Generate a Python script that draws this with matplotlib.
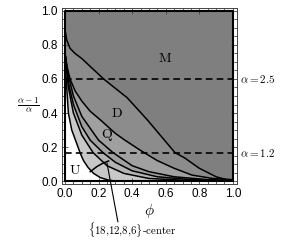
import numpy as np
import matplotlib
matplotlib.use("Agg")
import matplotlib.pyplot as plt
from matplotlib.ticker import MultipleLocator

plt.rcParams['mathtext.fontset'] = 'cm'
plt.rcParams['font.family'] = ['Liberation Sans', 'DejaVu Sans']

# Curves (phi, (alpha-1)/alpha)
phi_A = [0, 0.01, 0.03, 0.06, 0.10, 0.23, 0.37, 0.49, 0.655, 0.714, 0.80, 0.90, 0.97, 1.0]
y_A = [0.89, 0.83, 0.78, 0.75, 0.72, 0.60, 0.49, 0.36, 0.167, 0.135, 0.075, 0.025, 0.006, 0.003]

phi_B = [0, 0.01, 0.03, 0.06, 0.10, 0.15, 0.21, 0.30, 0.357, 0.45, 0.55, 0.65, 0.756, 0.88, 1.0]
y_B = [0.75, 0.68, 0.60, 0.53, 0.47, 0.41, 0.36, 0.28, 0.24, 0.18, 0.12, 0.075, 0.035, 0.015, 0.008]

phi_C3 = [0, 0.02, 0.05, 0.10, 0.20, 0.286, 0.40, 0.50, 0.65, 0.85, 1.0]
y_C3 = [0.75, 0.62, 0.50, 0.38, 0.24, 0.167, 0.09, 0.055, 0.025, 0.008, 0.002]

phi_C2 = [0, 0.02, 0.05, 0.10, 0.15, 0.226, 0.30, 0.40, 0.55, 0.75, 1.0]
y_C2 = [0.75, 0.58, 0.45, 0.32, 0.24, 0.167, 0.11, 0.06, 0.025, 0.008, 0.001]

phi_C1 = [0, 0.02, 0.05, 0.10, 0.167, 0.25, 0.35, 0.50, 0.70, 1.0]
y_C1 = [0.75, 0.55, 0.40, 0.27, 0.167, 0.09, 0.045, 0.015, 0.005, 0.0]

phi_U = [0, 0.01, 0.02, 0.04, 0.07, 0.09, 0.11, 0.137, 0.17, 0.21, 0.26, 0.30]
y_U = [0.72, 0.55, 0.40, 0.30, 0.22, 0.165, 0.12, 0.08, 0.045, 0.02, 0.005, 0.0]

phi_center = [0.15, 0.19, 0.226, 0.26]
y_center = [0.055, 0.085, 0.105, 0.118]

alpha_lines = [2.5, 1.2]
alpha_labels = [r"$\alpha = 2.5$", r"$\alpha = 1.2$"]

region_names = ["M", "D", "Q", "U"]
region_phi = [0.595, 0.31, 0.25, 0.06]
region_y = [0.725, 0.40, 0.27, 0.065]

ticks = [0.0, 0.2, 0.4, 0.6, 0.8, 1.0]

fig = plt.figure(figsize=(3.01, 2.40), dpi=100)
ax = fig.add_axes([0.206, 0.233, 0.581, 0.734])

grid = np.linspace(0, 1, 400)
def interp(px, py):
    return np.interp(grid, px, py)

ax.fill_between([0, 1], 0, 1, color='#7f7f7f', lw=0)
ax.fill_between(grid, 0, interp(phi_A, y_A), color='#8c8c8c', lw=0)
ax.fill_between(grid, 0, interp(phi_B, y_B), color='#a0a0a0', lw=0)
ax.fill_between(grid, 0, interp(phi_C2, y_C2), color='#b4b4b4', lw=0)
ax.fill_between(grid, 0, interp(phi_C1, y_C1), color='#c8c8c8', lw=0)
gu = np.linspace(0, phi_U[-1], 200)
ax.fill_between(gu, 0, np.interp(gu, phi_U, y_U), color='white', lw=0)

for px, py in [(phi_A, y_A), (phi_B, y_B), (phi_C3, y_C3), (phi_C2, y_C2),
               (phi_C1, y_C1), (phi_U, y_U), (phi_center, y_center)]:
    ax.plot(px, py, color='black', lw=1.1)

# boundary of the unit square
ax.plot([0, 1, 1, 0, 0], [0, 0, 1, 1, 0], color='black', lw=1.5)

for a, lab in zip(alpha_lines, alpha_labels):
    yv = (a - 1) / a
    ax.plot([0, 1], [yv, yv], color='black', lw=1.2, ls=(0, (4, 2.5)))
    ax.text(1.045, yv, lab, fontsize=8, va='center', ha='left')

for name, px, py in zip(region_names, region_phi, region_y):
    ax.text(px, py, r"$\mathrm{%s}$" % name, fontsize=10, ha='center', va='center')

# leader line and label of the {18,12,8,6}-center region
ax.annotate("", xy=(0.25, 0.106), xytext=(0.315, -0.24), textcoords='data',
            arrowprops=dict(arrowstyle='-', color='black', lw=0.8,
                            shrinkA=0, shrinkB=0),
            annotation_clip=False)
ax.text(0.40, -0.288, r"$\{18{,}12{,}8{,}6\}\text{-center}$", fontsize=7.8,
        ha='center', va='center')

ax.set_xlim(-0.018, 1.024)
ax.set_ylim(-0.018, 1.018)
ax.set_xticks(ticks)
ax.set_yticks(ticks)
ax.set_xticklabels(["%.1f" % t for t in ticks])
ax.set_yticklabels(["%.1f" % t for t in ticks])
ax.xaxis.set_minor_locator(MultipleLocator(0.05))
ax.yaxis.set_minor_locator(MultipleLocator(0.05))
ax.tick_params(which='both', direction='in', top=True, right=True,
               labelsize=8.5, color='#444444', width=0.6)
ax.tick_params(which='major', length=4, pad=3)
ax.tick_params(which='minor', length=2)
for s in ax.spines.values():
    s.set_color('#444444')
    s.set_linewidth(0.7)

ax.set_xlabel(r"$\phi$", fontsize=11, labelpad=1)
ax.text(-0.22, 0.45, r"$\frac{\alpha-1}{\alpha}$", fontsize=9.5,
        ha='center', va='center')

fig.savefig("out.png", dpi=100)
